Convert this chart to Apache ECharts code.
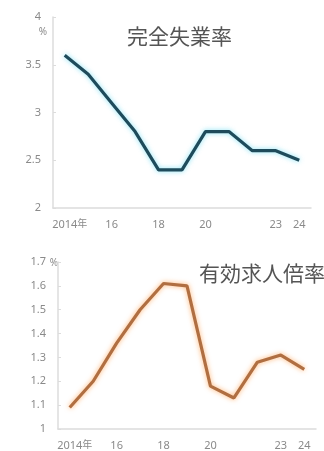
<!DOCTYPE html>
<html>
<head>
<meta charset="utf-8">
<script src="https://cdn.jsdelivr.net/npm/echarts@6/dist/echarts.min.js"></script>
<style>
  html, body { margin: 0; padding: 0; background: #ffffff; }
  #chart { width: 324px; height: 451px; }
</style>
</head>
<body>
<div id="chart"></div>
<script>
// Years shown on both panels
const years = ['2014', '2015', '2016', '2017', '2018', '2019', '2020', '2021', '2022', '2023', '2024'];
// Tick labels printed under the x axis (blank = no label)
const xLabels = ['2014年', '', '16', '', '18', '', '20', '', '', '23', '24'];
// Unemployment rate (%)
const unemployment = [3.6, 3.4, 3.1, 2.8, 2.4, 2.4, 2.8, 2.8, 2.6, 2.6, 2.5];
// Jobs-to-applicants ratio
const jobRatio = [1.09, 1.20, 1.36, 1.50, 1.61, 1.60, 1.18, 1.13, 1.28, 1.31, 1.25];
// Panel titles
const titles = ['完全失業率', '有効求人倍率'];

const FONT = '"Noto Sans", "Noto Sans CJK JP", sans-serif';
const labelGrey = '#8a8a8a';
const axisGrey = '#dcdcdc';

function xLabelFormatter(value, idx) {
  const t = xLabels[idx];
  if (t && t.endsWith('年')) {
    // keep the number itself centred on its tick, the unit hangs to the right
    return '{pad|}{num|' + t.slice(0, -1) + '}{unit|年}';
  }
  return t || '';
}

function xAxisFor(gridIndex) {
  return {
    type: 'category',
    gridIndex: gridIndex,
    data: years,
    boundaryGap: true,
    axisLine: { lineStyle: { color: axisGrey, width: 1.5 } },
    axisTick: { show: false },
    axisLabel: {
      interval: 0,
      margin: 11,
      color: labelGrey,
      fontSize: 11,
      fontFamily: FONT,
      formatter: xLabelFormatter,
      rich: {
        pad: { width: 10 },
        num: { color: labelGrey, fontSize: 11, fontFamily: FONT },
        unit: { color: labelGrey, fontSize: 10, fontFamily: FONT, width: 10 }
      }
    },
    splitLine: { show: false }
  };
}

function yAxisFor(gridIndex, min, max, interval, nameGap, namePad) {
  return {
    type: 'value',
    gridIndex: gridIndex,
    min: min,
    max: max,
    interval: interval,
    name: '%',
    nameLocation: 'end',
    nameGap: nameGap,
    nameMoveOverlap: false,
    nameTextStyle: {
      color: labelGrey, fontSize: 10, fontFamily: FONT,
      align: 'right', verticalAlign: 'middle', padding: namePad
    },
    axisLine: { show: true, lineStyle: { color: axisGrey, width: 1.5 } },
    axisTick: { show: true, inside: true, length: 3, lineStyle: { color: axisGrey } },
    axisLabel: { margin: 12, color: labelGrey, fontSize: 11, fontFamily: FONT },
    splitLine: { show: false }
  };
}

const chart = echarts.init(document.getElementById('chart'), null, { renderer: 'canvas' });

chart.setOption({
  animation: false,
  backgroundColor: '#ffffff',
  title: [
    {
      text: titles[0], left: 122, top: 23,
      textStyle: { color: '#555555', fontSize: 21, fontWeight: 'normal', fontFamily: FONT }
    },
    {
      text: titles[1], left: 194, top: 260,
      textStyle: { color: '#555555', fontSize: 21, fontWeight: 'normal', fontFamily: FONT }
    }
  ],
  grid: [
    { left: 53, top: 17, width: 258, height: 191 },
    { left: 58, top: 262, width: 258, height: 167 }
  ],
  xAxis: [xAxisFor(0), xAxisFor(1)],
  yAxis: [
    yAxisFor(0, 2, 4, 0.5, -15, [0, 6, 0, 0]),
    yAxisFor(1, 1, 1.7, 0.1, -1, [0, 0, 0, 0])
  ],
  series: [
    {
      type: 'line',
      xAxisIndex: 0,
      yAxisIndex: 0,
      data: unemployment,
      symbol: 'none',
      lineStyle: {
        color: '#1f4b5b', width: 3.2,
        shadowColor: 'rgba(90, 215, 240, 0.75)', shadowBlur: 5
      }
    },
    {
      type: 'line',
      xAxisIndex: 1,
      yAxisIndex: 1,
      data: jobRatio,
      symbol: 'none',
      lineStyle: {
        color: '#b06f42', width: 3.2,
        shadowColor: 'rgba(255, 150, 60, 0.75)', shadowBlur: 5
      }
    }
  ]
});
</script>
</body>
</html>
